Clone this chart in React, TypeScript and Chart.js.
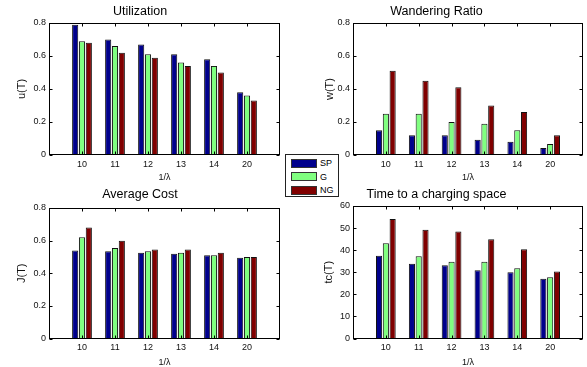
import React, { useEffect, useRef } from 'react';
import { Chart, registerables } from 'chart.js';

Chart.register(...registerables);

const FONT = '"Liberation Sans", Arial, Helvetica, sans-serif';

const categories = ['10', '11', '12', '13', '14', '20'];
const seriesNames = ['SP', 'G', 'NG'];
const seriesColors = ['#00008C', '#80FF80', '#800000'];

const utilSP = [0.79, 0.70, 0.67, 0.61, 0.58, 0.38];
const utilG = [0.69, 0.66, 0.61, 0.56, 0.54, 0.36];
const utilNG = [0.68, 0.62, 0.59, 0.54, 0.50, 0.33];

const wandSP = [0.15, 0.12, 0.12, 0.093, 0.08, 0.043];
const wandG = [0.25, 0.25, 0.20, 0.19, 0.15, 0.067];
const wandNG = [0.51, 0.45, 0.41, 0.30, 0.26, 0.12];

const costSP = [0.54, 0.535, 0.525, 0.52, 0.51, 0.495];
const costG = [0.62, 0.555, 0.535, 0.525, 0.51, 0.50];
const costNG = [0.68, 0.60, 0.545, 0.545, 0.525, 0.50];

const timeSP = [37.5, 33.8, 33.2, 30.9, 30.0, 27.1];
const timeG = [43.1, 37.2, 34.7, 34.7, 31.8, 27.7];
const timeNG = [54.1, 49.3, 48.4, 44.9, 40.4, 30.3];

type PanelSpec = {
  title: string;
  yLabel: string;
  series: number[][];
  yMax: number;
  yStep: number;
  left: number;
  top: number;
  width: number;
  height: number;
  yWidth: number;
  padRight: number;
  titleTop: number;
  titleBottom: number;
  xHeight: number;
  xTitleBottom: number;
  yTitlePad: number;
};

const panels: PanelSpec[] = [
  { title: 'Utilization', yLabel: 'u(T)', series: [utilSP, utilG, utilNG], yMax: 0.8, yStep: 0.2,
    left: 0, top: 0, width: 290, height: 184, yWidth: 49, padRight: 10, titleTop: 4, titleBottom: 4, xHeight: 29, xTitleBottom: 2, yTitlePad: 16 },
  { title: 'Wandering Ratio', yLabel: 'w(T)', series: [wandSP, wandG, wandNG], yMax: 0.8, yStep: 0.2,
    left: 290, top: 0, width: 297, height: 184, yWidth: 63, padRight: 4, titleTop: 4, titleBottom: 4, xHeight: 29, xTitleBottom: 2, yTitlePad: 34.5 },
  { title: 'Average Cost', yLabel: 'J(T)', series: [costSP, costG, costNG], yMax: 0.8, yStep: 0.2,
    left: 0, top: 184, width: 290, height: 183, yWidth: 49, padRight: 10, titleTop: 3.5, titleBottom: 5.5, xHeight: 28.5, xTitleBottom: 0, yTitlePad: 16 },
  { title: 'Time to a charging space', yLabel: 'tc(T)', series: [timeSP, timeG, timeNG], yMax: 60, yStep: 10,
    left: 290, top: 184, width: 297, height: 183, yWidth: 63, padRight: 4, titleTop: 3.5, titleBottom: 3.5, xHeight: 28.5, xTitleBottom: 0, yTitlePad: 33.5 },
];

const framePlugin = {
  id: 'matlabFrame',
  afterDraw(chart: any) {
    const { ctx, chartArea: a, scales } = chart;
    const L = Math.round(a.left) + 0.5;
    const R = Math.round(a.right) - 0.5;
    const T = Math.round(a.top) + 0.5;
    const B = Math.round(a.bottom) - 0.5;
    ctx.save();
    ctx.strokeStyle = '#000';
    ctx.lineWidth = 1;
    ctx.strokeRect(L, T, R - L, B - T);
    const line = (x1: number, y1: number, x2: number, y2: number) => {
      ctx.beginPath();
      ctx.moveTo(x1, y1);
      ctx.lineTo(x2, y2);
      ctx.stroke();
    };
    const y = scales.y;
    y.ticks.forEach((_t: any, i: number) => {
      const py = Math.round(y.getPixelForTick(i)) + 0.5;
      line(L, py, L + 3, py);
      line(R - 3, py, R, py);
    });
    const x = scales.x;
    for (let i = 1; i <= categories.length; i++) {
      const px = Math.round(x.getPixelForValue(i)) + 0.5;
      line(px, B, px, B - 3);
      line(px, T, px, T + 3);
    }
    ctx.restore();
  },
};

function buildConfig(p: PanelSpec): any {
  const labels = ['', ...categories, ''];
  const pad = (arr: number[]) => [null, ...arr, null];
  return {
    type: 'bar',
    data: {
      labels,
      datasets: p.series.map((s, i) => ({
        label: seriesNames[i],
        data: pad(s),
        backgroundColor: seriesColors[i],
        borderColor: '#111',
        borderWidth: 1,
        categoryPercentage: 0.62,
        barPercentage: 0.9,
      })),
    },
    options: {
      responsive: false,
      animation: false,
      devicePixelRatio: 1,
      layout: { padding: { left: 0, right: p.padRight, top: 0, bottom: 0 } },
      plugins: {
        legend: { display: false },
        tooltip: { enabled: false },
        title: {
          display: true,
          text: p.title,
          color: '#000',
          font: { family: FONT, size: 12.5, weight: 'normal', lineHeight: 1.2 },
          padding: { top: p.titleTop, bottom: p.titleBottom },
        },
      },
      scales: {
        x: {
          offset: false,
          grid: { display: false, drawTicks: false },
          border: { display: false },
          ticks: { autoSkip: false, maxRotation: 0, color: '#111', font: { family: FONT, size: 9 }, padding: 4 },
          title: {
            display: true,
            text: '1/λ',
            color: '#111',
            font: { family: FONT, size: 9, lineHeight: 1 },
            padding: { top: 0, bottom: p.xTitleBottom },
          },
          afterFit: (s: any) => { s.height = p.xHeight; },
        },
        y: {
          min: 0,
          max: p.yMax,
          grid: { display: false, drawTicks: false },
          border: { display: false },
          ticks: { stepSize: p.yStep, color: '#111', font: { family: FONT, size: 9 }, padding: 3 },
          title: {
            display: true,
            text: p.yLabel,
            color: '#111',
            font: { family: FONT, size: 11, lineHeight: 1 },
            padding: { top: p.yTitlePad, bottom: 0 },
          },
          afterFit: (s: any) => { s.width = p.yWidth; },
        },
      },
    },
    plugins: [framePlugin],
  };
}

function Panel({ spec }: { spec: PanelSpec }) {
  const ref = useRef<HTMLCanvasElement | null>(null);
  useEffect(() => {
    if (!ref.current) return;
    const chart = new Chart(ref.current, buildConfig(spec));
    return () => chart.destroy();
  }, [spec]);
  return (
    <canvas
      ref={ref}
      width={spec.width}
      height={spec.height}
      style={{ position: 'absolute', left: spec.left, top: spec.top, width: spec.width, height: spec.height }}
    />
  );
}

function Legend() {
  const rows = [3, 16.5, 30];
  return (
    <div
      style={{
        position: 'absolute', left: 285, top: 154, width: 52, height: 41,
        border: '1px solid #222', background: '#fff', fontFamily: FONT, fontSize: 9, color: '#000',
      }}
    >
      {seriesNames.map((name, i) => (
        <div key={name} style={{ position: 'absolute', left: 5, top: rows[i], height: 10, display: 'flex', alignItems: 'center' }}>
          <div style={{ width: 26, height: 9, background: seriesColors[i], border: '1px solid #333', boxSizing: 'border-box' }} />
          <span style={{ marginLeft: 3, lineHeight: '10px' }}>{name}</span>
        </div>
      ))}
    </div>
  );
}

export default function App() {
  return (
    <div style={{ position: 'fixed', left: 0, top: 0, width: 587, height: 367, background: '#fff', overflow: 'hidden' }}>
      {panels.map((p) => (
        <Panel key={p.title} spec={p} />
      ))}
      <Legend />
    </div>
  );
}
